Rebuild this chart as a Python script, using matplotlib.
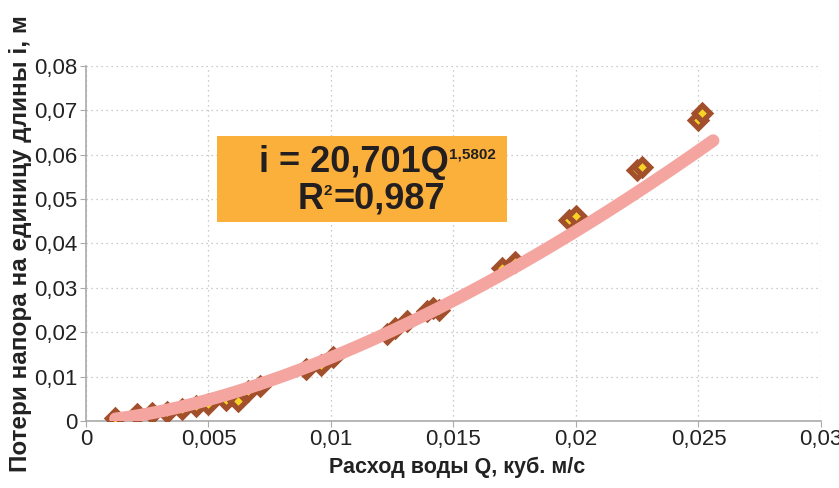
import numpy as np
import matplotlib.pyplot as plt
from matplotlib.patches import Rectangle

plt.rcParams['font.family'] = ['Liberation Sans', 'DejaVu Sans']

# measured points: flow Q (m3/s) and head loss per unit length i (m)
q = [0.0012, 0.0021, 0.0027, 0.0033, 0.0039, 0.0045, 0.0050, 0.0057, 0.0062,
     0.0066, 0.0071, 0.0090, 0.0096, 0.0101, 0.0123, 0.0126, 0.0131, 0.0139,
     0.01415, 0.0144, 0.0170, 0.0175, 0.0197, 0.0200, 0.0225, 0.0227, 0.0250,
     0.02515]
i = [0.0007, 0.0015, 0.0018, 0.0020, 0.0027, 0.0033, 0.0039, 0.0048, 0.0044,
     0.0068, 0.0078, 0.0118, 0.0126, 0.0145, 0.0197, 0.0210, 0.0226, 0.0248,
     0.0254, 0.0250, 0.0345, 0.0358, 0.0453, 0.0462, 0.0566, 0.0572, 0.0678,
     0.0694]

# power trend line
a, b = 20.701, 1.5802
q_fit = np.linspace(0.0012, 0.0256, 200)
i_fit = a * q_fit ** b

xticks = [0, 0.005, 0.01, 0.015, 0.02, 0.025, 0.03]
xlabels = ['0', '0,005', '0,01', '0,015', '0,02', '0,025', '0,03']
yticks = [0, 0.01, 0.02, 0.03, 0.04, 0.05, 0.06, 0.07, 0.08]
ylabels = ['0', '0,01', '0,02', '0,03', '0,04', '0,05', '0,06', '0,07', '0,08']

fig = plt.figure(figsize=(8.39, 4.88), dpi=100)
ax = fig.add_axes([0.1025, 0.1373, 0.876, 0.7275])

ax.plot(q, i, linestyle='none', marker='D', markersize=8,
        markerfacecolor='#F7D327', markeredgecolor='#A24F2C',
        markeredgewidth=3.8, zorder=3)
ax.plot(q_fit, i_fit, color='#F5A5A0', linewidth=9, solid_capstyle='round',
        zorder=4)

ax.set_xlim(0, 0.03)
ax.set_ylim(0, 0.08)
ax.set_xticks(xticks)
ax.set_xticklabels(xlabels)
ax.set_yticks(yticks)
ax.set_yticklabels(ylabels)
ax.tick_params(labelsize=16, labelcolor='#222222', color='#AAAAAA',
               length=4, width=0.8, pad=2)

ax.grid(True, color='#BBBBBB', linestyle=(0, (1, 3)), linewidth=0.9)
ax.set_axisbelow(True)
for side in ['top', 'right']:
    ax.spines[side].set_visible(False)
for side in ['left', 'bottom']:
    ax.spines[side].set_color('#AAAAAA')
    ax.spines[side].set_linewidth(1.2)

ax.set_xlabel('Расход воды Q, куб. м/с', fontsize=15.5, fontweight='bold',
              color='#222222')
ax.xaxis.set_label_coords(0.505, -0.10)
ax.set_ylabel('Потери напора на единицу длины i, м', fontsize=17.5,
              fontweight='bold', color='#222222')
ax.yaxis.set_label_coords(-0.074, 0.50)

# equation box
ax.add_patch(Rectangle((0.178, 0.5606), 0.3946, 0.2423, transform=ax.transAxes,
                       facecolor='#FBB03B', edgecolor='none', zorder=5))
t1 = ax.text(0.494, 0.727, 'i = 20,701Q', transform=ax.transAxes,
             ha='right', va='center', fontsize=26, fontweight='bold',
             color='#231F20', zorder=6)
ax.annotate('1,5802', xy=(1.0, 0.93), xycoords=t1, ha='left', va='top',
            fontsize=11, fontweight='bold', color='#231F20', zorder=6)
t2 = ax.text(0.337, 0.624, '=0,987', transform=ax.transAxes,
             ha='left', va='center', fontsize=26, fontweight='bold',
             color='#231F20', zorder=6)
t3 = ax.annotate('R', xy=(0, 0.5), xycoords=t2, xytext=(-7.5, 0),
                 textcoords='offset points', ha='right', va='center',
                 fontsize=26, fontweight='bold', color='#231F20', zorder=6)
ax.annotate('2', xy=(1.0, 0.93), xycoords=t3, ha='left', va='top',
            fontsize=11, fontweight='bold', color='#231F20', zorder=6)

fig.savefig('out.png', dpi=100)
